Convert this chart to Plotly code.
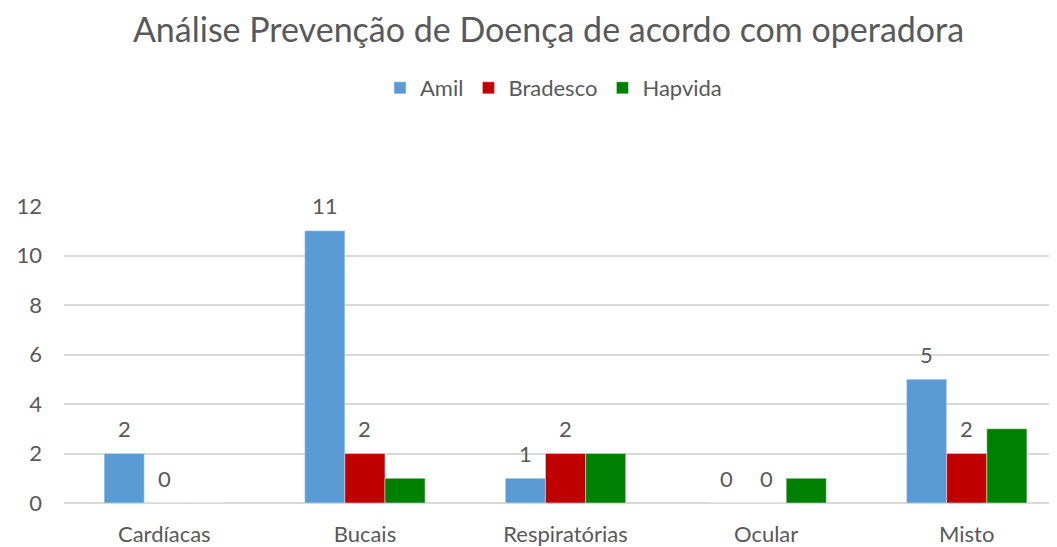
import plotly.graph_objects as go

categories = ["Cardíacas", "Bucais", "Respiratórias", "Ocular", "Misto"]
amil = [2, 11, 1, 0, 5]
bradesco = [0, 2, 2, 0, 2]
hapvida = [0, 1, 2, 1, 3]

FONT = "Lato, Open Sans, sans-serif"
GRAY = "#595959"
OFF = 8  # page body offset

fig = go.Figure()
fig.add_trace(go.Bar(name="Amil", x=categories, y=amil, marker_color="#5b9bd5"))
fig.add_trace(go.Bar(name="Bradesco", x=categories, y=bradesco, marker_color="#c00000"))
fig.add_trace(go.Bar(name="Hapvida", x=categories, y=hapvida, marker_color="#008000"))

# data labels for Amil and Bradesco above bars
for series, xs in ((amil, -40), (bradesco, 0)):
    for c, v in zip(categories, series):
        fig.add_annotation(x=c, y=v, xref="x", yref="y", text=str(v), showarrow=False,
                           xshift=xs, yshift=25, yanchor="middle",
                           font=dict(size=22, color=GRAY, family=FONT))

fig.update_layout(
    width=1057, height=547,
    paper_bgcolor="white", plot_bgcolor="white",
    margin=dict(l=51, r=OFF, t=206 - OFF, b=547 - (504 - OFF)),
    barmode="group", bargap=0.4, bargroupgap=0,
    font=dict(family=FONT, color=GRAY, size=22),
    showlegend=True,
    title=dict(text="Análise Prevenção de Doença de acordo com operadora",
               xref="container", x=(548.5 - OFF) / 1057, xanchor="center",
               yref="container", y=1 - (30 - OFF) / 547, yanchor="middle",
               font=dict(size=34, color=GRAY, family=FONT)),
    legend=dict(orientation="h", xref="container", x=(553.5 - OFF) / 1057, xanchor="center",
                yref="container", y=1 - (88 - OFF) / 547, yanchor="middle",
                font=dict(size=22, color=GRAY, family=FONT),
                itemwidth=30, traceorder="normal"),
    xaxis=dict(range=[-0.5, 4.45], showgrid=False, showline=False, ticks="",
               ticklabelstandoff=16, tickfont=dict(size=22, color=GRAY)),
    yaxis=dict(range=[0, 12], dtick=2, showgrid=True, gridcolor="#d9d9d9", gridwidth=1.5,
               zeroline=True, zerolinecolor="#d9d9d9", zerolinewidth=1.5,
               showline=False, ticks="", ticklabelstandoff=21,
               tickfont=dict(size=22, color=GRAY)),
)

fig.write_html("out.html")
